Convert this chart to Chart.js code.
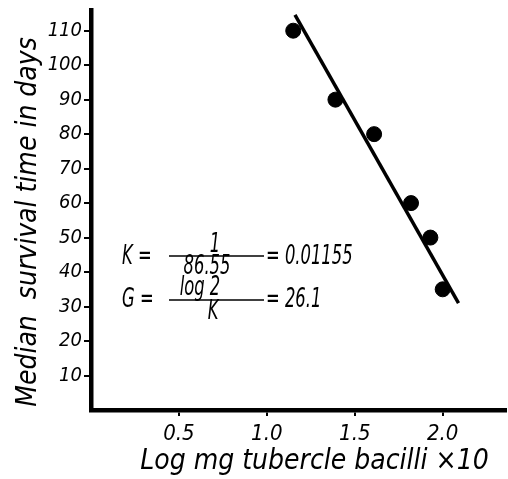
<!DOCTYPE html>
<html>
<head>
<meta charset="utf-8">
<script src="https://cdn.jsdelivr.net/npm/chart.js@4/dist/chart.umd.min.js"></script>
<style>
  html, body { margin: 0; padding: 0; background: #fff; }
  canvas { display: block; }
</style>
</head>
<body>
<canvas id="c" width="508" height="479"></canvas>
<script>
// ---- data ----
const logDose = [1.15, 1.39, 1.61, 1.82, 1.93, 2.0];
const survivalDays = [110, 90, 80, 60, 50, 35];
const fitLineX = [1.16, 2.09];
const fitLineY = [114.6, 31];
const xTickValues = [0.5, 1.0, 1.5, 2.0];
const yTickValues = [10, 20, 30, 40, 50, 60, 70, 80, 90, 100, 110];
const xTitle = '    Log mg tubercle bacilli \u00d710';
const yTitle = 'Median  survival time in days   ';
const kLabel = 'K =', kNum = '1', kDen = '86.55', kRes = '= 0.01155';
const gLabel = 'G =', gNum = 'log 2', gDen = 'K', gRes = '= 26.1';

const FONT = "'DejaVu Sans Condensed', 'DejaVu Sans', sans-serif";

function squeezedText(ctx, str, x, y, align, sx) {
  ctx.save();
  ctx.translate(x, y);
  ctx.scale(sx, 1);
  ctx.textAlign = align;
  ctx.fillText(str, 0, 0);
  ctx.restore();
}

const annotations = {
  id: 'annotations',
  afterDatasetsDraw(chart) {
    const ctx = chart.ctx;
    const sx = 0.7;
    ctx.save();
    ctx.fillStyle = '#000';
    ctx.strokeStyle = '#000';
    ctx.font = 'italic 26px ' + FONT;
    ctx.textBaseline = 'middle';
    ctx.lineWidth = 1.6;
    // K row
    squeezedText(ctx, kLabel, 122, 257, 'left', sx);
    squeezedText(ctx, kNum, 215, 245, 'center', sx);
    squeezedText(ctx, kDen, 207, 267, 'center', sx);
    squeezedText(ctx, kRes, 266, 257, 'left', sx);
    ctx.beginPath(); ctx.moveTo(169, 256); ctx.lineTo(264, 256); ctx.stroke();
    // G row
    squeezedText(ctx, gLabel, 122, 300, 'left', sx);
    squeezedText(ctx, gNum, 200, 288, 'center', sx);
    squeezedText(ctx, gDen, 213, 312, 'center', sx);
    squeezedText(ctx, gRes, 266, 300, 'left', sx);
    ctx.beginPath(); ctx.moveTo(169, 300); ctx.lineTo(264, 300); ctx.stroke();
    ctx.restore();
  }
};

new Chart(document.getElementById('c'), {
  type: 'scatter',
  data: {
    datasets: [
      {
        label: 'fit',
        data: fitLineX.map((x, i) => ({ x, y: fitLineY[i] })),
        showLine: true,
        borderColor: '#000',
        borderWidth: 3.5,
        pointRadius: 0,
        order: 0
      },
      {
        label: 'median survival',
        data: logDose.map((x, i) => ({ x, y: survivalDays[i] })),
        backgroundColor: '#000',
        borderColor: '#000',
        pointRadius: 7.5,
        pointHoverRadius: 7.5,
        order: 1
      }
    ]
  },
  options: {
    responsive: false,
    animation: false,
    events: [],
    layout: { autoPadding: false, padding: { top: 10, right: 2, left: 0, bottom: 0 } },
    plugins: { legend: { display: false }, tooltip: { enabled: false } },
    scales: {
      x: {
        type: 'linear',
        min: 0,
        max: 2.36,
        afterFit(s) { s.height = 69; s.paddingLeft = 0; s.paddingRight = 0; },
        afterBuildTicks(s) { s.ticks = xTickValues.map(v => ({ value: v })); },
        border: { display: true, color: '#000', width: 4.5 },
        grid: { display: true, drawOnChartArea: false, drawTicks: true, tickLength: 6, color: '#000', lineWidth: 2 },
        ticks: {
          color: '#000',
          padding: 5,
          maxRotation: 0,
          font: { family: FONT, size: 22, style: 'italic' },
          callback: v => Number(v).toFixed(1)
        },
        title: {
          display: true,
          text: xTitle,
          color: '#000',
          align: 'center',
          padding: { top: 0, bottom: 0 },
          font: { family: FONT, size: 28, style: 'italic' }
        }
      },
      y: {
        type: 'linear',
        min: 0,
        max: 116,
        afterFit(s) { s.width = 91; s.paddingTop = 0; s.paddingBottom = 0; },
        afterBuildTicks(s) { s.ticks = yTickValues.map(v => ({ value: v })); },
        border: { display: true, color: '#000', width: 4.5 },
        grid: { display: true, drawOnChartArea: false, drawTicks: true, tickLength: 7, color: '#000', lineWidth: 2 },
        ticks: {
          color: '#000',
          padding: 2,
          font: { family: FONT, size: 20, style: 'italic' },
          callback: v => String(v)
        },
        title: {
          display: true,
          text: yTitle,
          color: '#000',
          padding: { top: 12, bottom: 0 },
          font: { family: FONT, size: 28, style: 'italic' }
        }
      }
    }
  },
  plugins: [annotations]
});
</script>
</body>
</html>
